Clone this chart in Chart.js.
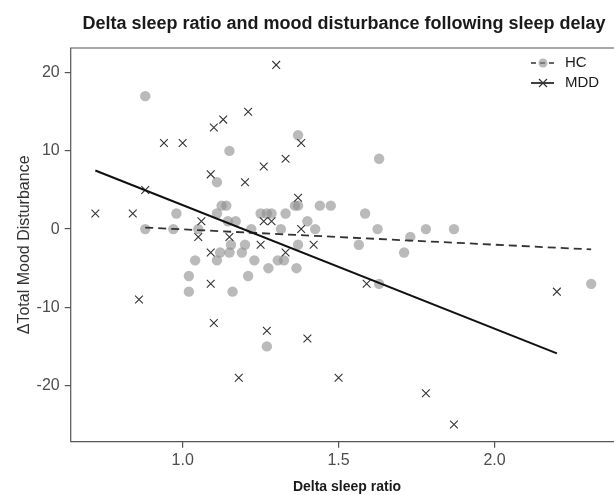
<!DOCTYPE html>
<html>
<head>
<meta charset="utf-8">
<script src="https://cdn.jsdelivr.net/npm/chart.js@4/dist/chart.umd.min.js"></script>
<style>
  html, body { margin: 0; padding: 0; background: #fff; }
</style>
</head>
<body>
<canvas id="chart" width="614" height="495"></canvas>
<script>
// HC (healthy controls) points
const hcX = [0.88, 1.15, 1.37, 1.63, 1.11, 0.98, 1.11, 1.125, 1.14, 0.88, 0.97, 1.05, 1.145, 1.17, 1.22,
  1.25, 1.27, 1.285, 1.33, 1.36, 1.37, 1.44, 1.475, 1.40, 1.425, 1.315, 1.585, 1.625, 1.78, 1.87,
  1.73, 1.565, 1.71, 1.63, 2.31, 1.37, 1.20, 1.155, 1.12, 1.15, 1.19, 1.11, 1.04, 1.23, 1.305,
  1.325, 1.275, 1.365, 1.02, 1.21, 1.02, 1.16, 1.27];
const hcY = [17, 10, 12, 9, 6, 2, 2, 3, 3, 0, 0, 0, 1, 1, 0,
  2, 2, 2, 2, 3, 3, 3, 3, 1, 0, 0, 2, 0, 0, 0,
  -1, -2, -3, -7, -7, -2, -2, -2, -3, -3, -3, -4, -4, -4, -4,
  -4, -5, -5, -6, -6, -8, -8, -15];

// MDD points
const mddX = [1.30, 1.21, 1.13, 1.10, 0.94, 1.00, 1.38, 1.33, 1.26, 1.09, 1.20, 0.88, 1.37, 0.72, 0.84,
  1.26, 1.285, 1.06, 1.05, 1.15, 1.38, 1.42, 1.25, 1.09, 1.33, 1.09, 0.86, 1.10, 1.27, 1.40,
  1.18, 1.50, 1.59, 1.78, 1.87, 2.20];
const mddY = [21, 15, 14, 13, 11, 11, 11, 9, 8, 7, 6, 5, 4, 2, 2,
  1, 1, 1, -1, -1, 0, -2, -2, -3, -3, -7, -9, -12, -13, -14,
  -19, -19, -7, -21, -25, -8];

// fit lines, end points
const hcLineX = [0.88, 2.31];
const hcLineY = [0.2, -2.6];
const mddLineX = [0.72, 2.20];
const mddLineY = [7.5, -15.9];

const xTicks = [1.0, 1.5, 2.0];
const yTicks = [-20, -10, 0, 10, 20];

const pts = (xs, ys) => xs.map((x, i) => ({ x: x, y: ys[i] }));

const FONT = "'Liberation Sans', Arial, sans-serif";
const TEXT = '#1a1a1a';

const decor = {
  id: 'decor',
  afterDraw(chart) {
    const ctx = chart.ctx;
    const a = chart.chartArea;
    const w = chart.width;
    ctx.save();
    // panel border (runs off the right edge like the reference)
    ctx.strokeStyle = '#555';
    ctx.lineWidth = 1.2;
    ctx.beginPath();
    ctx.moveTo(w + 2, a.top);
    ctx.lineTo(a.left, a.top);
    ctx.lineTo(a.left, a.bottom);
    ctx.lineTo(w + 2, a.bottom);
    ctx.stroke();

    // title
    ctx.fillStyle = TEXT;
    ctx.textAlign = 'center';
    ctx.textBaseline = 'middle';
    ctx.font = 'bold 18px ' + FONT;
    ctx.fillText('Delta sleep ratio and mood disturbance following sleep delay', 344, 24);

    // x title
    ctx.font = 'bold 14px ' + FONT;
    ctx.fillText('Delta sleep ratio', 347, 487);

    // y title
    ctx.save();
    ctx.translate(25, (a.top + a.bottom) / 2);
    ctx.rotate(-Math.PI / 2);
    ctx.font = '16px ' + FONT;
    ctx.fillStyle = '#333';
    ctx.fillText('\u0394Total Mood Disturbance', 0, 0);
    ctx.restore();

    // legend
    ctx.textAlign = 'left';
    ctx.font = '15px ' + FONT;
    // HC
    ctx.strokeStyle = '#333';
    ctx.lineWidth = 1.6;
    ctx.setLineDash([5, 4]);
    ctx.beginPath(); ctx.moveTo(531, 63); ctx.lineTo(554, 63); ctx.stroke();
    ctx.setLineDash([]);
    ctx.fillStyle = 'rgba(140,140,140,0.6)';
    ctx.beginPath(); ctx.arc(543, 63, 4.5, 0, Math.PI * 2); ctx.fill();
    ctx.fillStyle = TEXT;
    ctx.fillText('HC', 565, 63);
    // MDD
    ctx.strokeStyle = '#111';
    ctx.lineWidth = 1.6;
    ctx.beginPath(); ctx.moveTo(531, 83); ctx.lineTo(554, 83); ctx.stroke();
    ctx.lineWidth = 1.1;
    ctx.strokeStyle = '#333';
    ctx.beginPath();
    ctx.moveTo(539, 79); ctx.lineTo(547, 87);
    ctx.moveTo(547, 79); ctx.lineTo(539, 87);
    ctx.stroke();
    ctx.fillStyle = TEXT;
    ctx.fillText('MDD', 565, 83);
    ctx.restore();
  }
};

new Chart(document.getElementById('chart'), {
  type: 'scatter',
  data: {
    datasets: [
      {
        label: 'MDD fit',
        data: pts(mddLineX, mddLineY),
        showLine: true,
        borderColor: '#111',
        borderWidth: 2,
        pointRadius: 0
      },
      {
        label: 'HC fit',
        data: pts(hcLineX, hcLineY),
        showLine: true,
        borderColor: '#333',
        borderWidth: 1.8,
        borderDash: [8, 5],
        pointRadius: 0
      },
      {
        label: 'MDD',
        data: pts(mddX, mddY),
        pointStyle: 'crossRot',
        pointRadius: 5.5,
        borderColor: '#333',
        borderWidth: 1.1,
        backgroundColor: '#333'
      },
      {
        label: 'HC',
        data: pts(hcX, hcY),
        pointStyle: 'circle',
        pointRadius: 5.2,
        borderWidth: 0,
        backgroundColor: 'rgba(140,140,140,0.6)'
      }
    ]
  },
  options: {
    responsive: false,
    animation: false,
    layout: { padding: { top: 48, right: 0, left: 0, bottom: 0 } },
    plugins: {
      legend: { display: false },
      title: { display: false },
      tooltip: { enabled: false }
    },
    scales: {
      x: {
        type: 'linear',
        min: 0.641,
        max: 2.362,
        afterFit: s => { s.height = 53.3; },
        afterBuildTicks: s => { s.ticks = xTicks.map(v => ({ value: v })); },
        grid: { display: true, drawOnChartArea: false, drawTicks: true, tickLength: 6, color: '#555', lineWidth: 1.2 },
        border: { display: false },
        ticks: {
          padding: 3,
          color: '#4d4d4d',
          font: { family: FONT, size: 16 },
          callback: v => Number(v).toFixed(1)
        }
      },
      y: {
        type: 'linear',
        min: -27.19,
        max: 23.16,
        afterFit: s => { s.width = 70.7; },
        afterBuildTicks: s => { s.ticks = yTicks.map(v => ({ value: v })); },
        grid: { display: true, drawOnChartArea: false, drawTicks: true, tickLength: 6, color: '#555', lineWidth: 1.2 },
        border: { display: false },
        ticks: {
          padding: 5,
          color: '#4d4d4d',
          font: { family: FONT, size: 16 },
          callback: v => String(v)
        }
      }
    }
  },
  plugins: [decor]
});
</script>
</body>
</html>
